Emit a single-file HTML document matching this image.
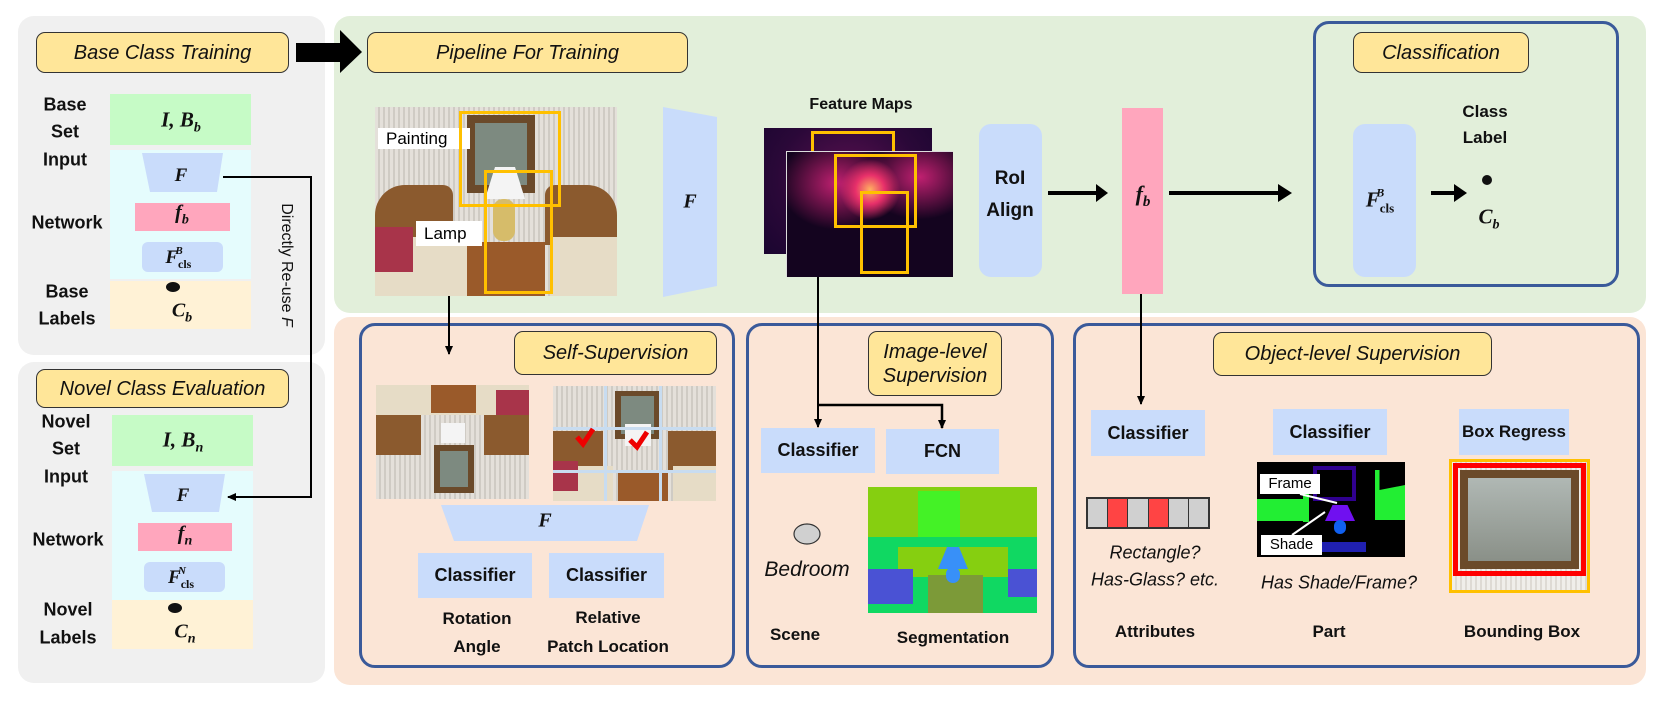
<!DOCTYPE html>
<html><head><meta charset="utf-8">
<style>
*{margin:0;padding:0;box-sizing:border-box}
body{width:1660px;height:703px;background:#fff;position:relative;overflow:hidden;font-family:"Liberation Sans",sans-serif}
.a{position:absolute}
.t{position:absolute;text-align:center;font-weight:bold;color:#111;white-space:nowrap;transform:translate(-50%,-50%)}
.ybox{position:absolute;background:#ffe699;border:1.5px solid #333;border-radius:9px;font-style:italic;color:#111;display:flex;align-items:center;justify-content:center;font-size:20px;text-align:center;line-height:1.2}
.bb{position:absolute;background:#c9dcfb;display:flex;align-items:center;justify-content:center;font-weight:bold;font-size:18px;color:#111;white-space:nowrap}
.panel{position:absolute;border:3.5px solid #3a5a9a;border-radius:16px}
.m{font-family:"Liberation Serif",serif;font-weight:bold;font-style:italic}
.ph{position:absolute;overflow:hidden}
.ph div{position:absolute}
</style></head><body>

<div class="a" style="left:18px;top:16px;width:307px;height:339px;background:#f0f0f0;border-radius:16px"></div>
<div class="a" style="left:18px;top:362px;width:307px;height:321px;background:#f0f0f0;border-radius:16px"></div>
<div class="a" style="left:334px;top:16px;width:1312px;height:297px;background:#e2efda;border-radius:16px"></div>
<div class="a" style="left:334px;top:317px;width:1312px;height:368px;background:#fbe5d6;border-radius:16px"></div>

<div class="a" style="left:110px;top:94px;width:141px;height:51px;background:#c6fbc6"></div>
<div class="a" style="left:110px;top:150px;width:141px;height:129px;background:#e5fcfd"></div>
<div class="a" style="left:135px;top:203px;width:95px;height:28px;background:#ffa6bd"></div>
<div class="a" style="left:142px;top:242px;width:81px;height:30px;background:#c9dcfb;border-radius:6px"></div>
<div class="a" style="left:110px;top:281px;width:141px;height:48px;background:#fff2d6"></div>

<div class="a" style="left:112px;top:415px;width:141px;height:51px;background:#c6fbc6"></div>
<div class="a" style="left:112px;top:471px;width:141px;height:129px;background:#e5fcfd"></div>
<div class="a" style="left:138px;top:523px;width:94px;height:28px;background:#ffa6bd"></div>
<div class="a" style="left:144px;top:562px;width:81px;height:30px;background:#c9dcfb;border-radius:6px"></div>
<div class="a" style="left:112px;top:600px;width:141px;height:49px;background:#fff2d6"></div>

<div class="ybox" style="left:36px;top:32px;width:253px;height:41px">Base Class Training</div>
<div class="ybox" style="left:36px;top:369px;width:253px;height:39px">Novel Class Evaluation</div>
<div class="ybox" style="left:367px;top:32px;width:321px;height:41px">Pipeline For Training</div>

<div class="ph" style="left:375px;top:107px;width:242px;height:189px;background:repeating-linear-gradient(90deg,#e4e0da 0 3px,#cfcbc4 3px 5px)">
 <div style="left:92px;top:8px;width:68px;height:78px;background:#6b4a2a"></div>
 <div style="left:100px;top:16px;width:52px;height:62px;background:#7d8a80"></div>
 <div style="left:0;top:78px;width:78px;height:60px;background:#8b5a2e;border-radius:30px 10px 0 0"></div>
 <div style="left:170px;top:78px;width:72px;height:60px;background:#8b5a2e;border-radius:10px 30px 0 0"></div>
 <div style="left:0;top:130px;width:95px;height:59px;background:#e6dcc6"></div>
 <div style="left:175px;top:130px;width:67px;height:59px;background:#e6dcc6"></div>
 <div style="left:0;top:120px;width:38px;height:45px;background:#a8344a"></div>
 <div style="left:92px;top:135px;width:78px;height:54px;background:#9a5a2a"></div>
 <div style="left:110px;top:60px;width:40px;height:32px;background:#f4f4f4;clip-path:polygon(25% 0,75% 0,100% 100%,0 100%)"></div>
 <div style="left:118px;top:92px;width:22px;height:42px;background:#d6bc6a;border-radius:10px"></div>
</div>
<div class="a" style="left:378px;top:128px;width:92px;height:21px;background:#fff;font-size:17px;padding-left:8px;line-height:21px">Painting</div>
<div class="a" style="left:416px;top:221px;width:66px;height:25px;background:#fff;font-size:17px;padding-left:8px;line-height:25px">Lamp</div>
<div class="a" style="left:459px;top:111px;width:102px;height:96px;border:3px solid #ffc000"></div>
<div class="a" style="left:484px;top:170px;width:69px;height:124px;border:3px solid #ffc000"></div>

<div class="a" style="left:764px;top:128px;width:168px;height:126px;background:radial-gradient(ellipse at 50% 40%,#5a1050 0,#2a0838 60%,#1a0530 100%)"></div>
<div class="a" style="left:811px;top:131px;width:84px;height:22px;border:3px solid #ffc000;border-bottom:none"></div>
<div class="a" style="left:786px;top:151px;width:167px;height:126px;background:radial-gradient(circle at 50% 30%,#ffb060 0,#e8306a 12%,transparent 25%),radial-gradient(ellipse at 30% 25%,#c02070 0,transparent 35%),radial-gradient(ellipse at 80% 20%,#c02070 0,transparent 30%),#14041f;border-top:1px solid #ddd;border-left:1px solid #ddd"></div>
<div class="a" style="left:834px;top:154px;width:83px;height:74px;border:3px solid #ffc000"></div>
<div class="a" style="left:860px;top:191px;width:49px;height:83px;border:3px solid #ffc000"></div>

<div class="a" style="left:979px;top:124px;width:63px;height:153px;background:#c9dcfb;border-radius:12px"></div>
<div class="a" style="left:1122px;top:108px;width:41px;height:186px;background:#ffa6bd"></div>
<div class="panel" style="left:1313px;top:21px;width:306px;height:266px"></div>
<div class="ybox" style="left:1353px;top:32px;width:176px;height:41px">Classification</div>
<div class="a" style="left:1353px;top:124px;width:63px;height:153px;background:#c9dcfb;border-radius:12px"></div>

<div class="panel" style="left:359px;top:323px;width:376px;height:345px"></div>
<div class="panel" style="left:746px;top:323px;width:308px;height:345px"></div>
<div class="panel" style="left:1073px;top:323px;width:567px;height:345px"></div>
<div class="ybox" style="left:514px;top:331px;width:203px;height:44px">Self-Supervision</div>
<div class="ybox" style="left:868px;top:331px;width:134px;height:65px">Image-level<br>Supervision</div>
<div class="ybox" style="left:1213px;top:332px;width:279px;height:44px">Object-level Supervision</div>

<div class="ph" style="left:376px;top:385px;width:153px;height:114px;background:repeating-linear-gradient(90deg,#e4e0da 0 3px,#cfcbc4 3px 5px)">
 <div style="left:0;top:0;width:153px;height:30px;background:#e6dcc6"></div>
 <div style="left:55px;top:0;width:45px;height:28px;background:#9a5a2a"></div>
 <div style="left:120px;top:5px;width:33px;height:30px;background:#a8344a"></div>
 <div style="left:0;top:30px;width:45px;height:40px;background:#8b5a2e"></div>
 <div style="left:108px;top:30px;width:45px;height:40px;background:#8b5a2e"></div>
 <div style="left:58px;top:60px;width:40px;height:48px;background:#6b4a2a"></div>
 <div style="left:64px;top:66px;width:28px;height:36px;background:#7d8a80"></div>
 <div style="left:65px;top:38px;width:24px;height:20px;background:#f4f4f4"></div>
</div>
<div class="ph" style="left:553px;top:386px;width:163px;height:115px;background:repeating-linear-gradient(90deg,#e4e0da 0 3px,#cfcbc4 3px 5px)">
 <div style="left:62px;top:5px;width:45px;height:48px;background:#6b4a2a"></div>
 <div style="left:68px;top:10px;width:33px;height:38px;background:#7d8a80"></div>
 <div style="left:0;top:45px;width:50px;height:40px;background:#8b5a2e"></div>
 <div style="left:115px;top:45px;width:48px;height:40px;background:#8b5a2e"></div>
 <div style="left:0;top:80px;width:60px;height:35px;background:#e6dcc6"></div>
 <div style="left:120px;top:80px;width:43px;height:35px;background:#e6dcc6"></div>
 <div style="left:0;top:75px;width:25px;height:30px;background:#a8344a"></div>
 <div style="left:65px;top:85px;width:50px;height:30px;background:#9a5a2a"></div>
 <div style="left:72px;top:38px;width:26px;height:22px;background:#f4f4f4"></div>
 <div style="left:0;top:41px;width:163px;height:3px;background:#c8dcf0"></div>
 <div style="left:0;top:84px;width:163px;height:3px;background:#c8dcf0"></div>
 <div style="left:51px;top:0;width:3px;height:115px;background:#c8dcf0"></div>
 <div style="left:106px;top:0;width:3px;height:115px;background:#c8dcf0"></div>
</div>

<div class="bb" style="left:418px;top:553px;width:114px;height:45px">Classifier</div>
<div class="bb" style="left:549px;top:553px;width:115px;height:45px">Classifier</div>
<div class="bb" style="left:761px;top:428px;width:114px;height:45px">Classifier</div>
<div class="bb" style="left:886px;top:429px;width:113px;height:45px">FCN</div>
<div class="bb" style="left:1091px;top:410px;width:114px;height:46px">Classifier</div>
<div class="bb" style="left:1273px;top:409px;width:114px;height:46px">Classifier</div>
<div class="bb" style="left:1459px;top:409px;width:110px;height:46px;font-size:17px">Box Regress</div>

<div class="ph" style="left:868px;top:487px;width:169px;height:126px;background:#86cf10">
 <div style="left:50px;top:4px;width:42px;height:60px;background:#44f226"></div>
 <div style="left:0;top:50px;width:169px;height:76px;background:#10d862"></div>
 <div style="left:30px;top:60px;width:110px;height:30px;background:#86cf10"></div>
 <div style="left:0;top:82px;width:45px;height:35px;background:#4a52d4"></div>
 <div style="left:140px;top:82px;width:29px;height:28px;background:#4a52d4"></div>
 <div style="left:60px;top:88px;width:55px;height:38px;background:#7c9a38"></div>
 <div style="left:70px;top:60px;width:30px;height:22px;background:#3890f8;clip-path:polygon(30% 0,70% 0,100% 100%,0 100%)"></div>
 <div style="left:78px;top:80px;width:14px;height:16px;background:#3890f8;border-radius:7px"></div>
</div>

<div class="a" style="left:1086px;top:497px;width:124px;height:32px;border:2px solid #333;display:flex">
 <div style="flex:1;background:#d0d0d0;border-right:1.5px solid #333"></div><div style="flex:1;background:#f44;border-right:1.5px solid #333"></div><div style="flex:1;background:#d0d0d0;border-right:1.5px solid #333"></div><div style="flex:1;background:#f44;border-right:1.5px solid #333"></div><div style="flex:1;background:#d0d0d0;border-right:1.5px solid #333"></div><div style="flex:1;background:#d0d0d0"></div>
</div>

<div class="ph" style="left:1257px;top:462px;width:148px;height:95px;background:#000">
 <div style="left:56px;top:4px;width:43px;height:35px;border:4px solid #300090"></div>
 <div style="left:0;top:37px;width:52px;height:22px;background:#22ee33"></div>
 <div style="left:46px;top:20px;width:6px;height:40px;background:#22ee33"></div>
 <div style="left:118px;top:8px;width:30px;height:50px;background:#22ee33;clip-path:polygon(0 0,15% 0,15% 40%,100% 30%,100% 100%,0 100%)"></div>
 <div style="left:68px;top:43px;width:30px;height:16px;background:#7010f0;clip-path:polygon(25% 0,75% 0,100% 100%,0 100%)"></div>
 <div style="left:77px;top:58px;width:12px;height:14px;background:#1060f0;border-radius:6px"></div>
 <div style="left:65px;top:80px;width:44px;height:10px;background:#2020b0"></div>
</div>
<div class="a" style="left:1260px;top:474px;width:60px;height:20px;background:#fff;font-size:15px;line-height:20px;text-align:center">Frame</div>
<div class="a" style="left:1261px;top:535px;width:61px;height:20px;background:#fff;font-size:15px;line-height:20px;text-align:center">Shade</div>

<div class="ph" style="left:1449px;top:459px;width:141px;height:134px;border:3px solid #ffc000;background:repeating-linear-gradient(90deg,#f0eeea 0 3px,#dedad4 3px 5px)">
 <div style="left:1px;top:1px;width:133px;height:113px;border:5px solid #f00"></div>
 <div style="left:8px;top:8px;width:119px;height:99px;background:#6b4a2a"></div>
 <div style="left:16px;top:16px;width:103px;height:83px;background:linear-gradient(#b0b8b4,#8a9088)"></div>
</div>

<svg class="a" style="left:0;top:0" width="1660" height="703">
<defs>
<marker id="ah" markerWidth="10" markerHeight="10" refX="8" refY="5" orient="auto" markerUnits="userSpaceOnUse"><path d="M0,1 L9,5 L0,9 z" fill="#000"/></marker>
</defs>
<polygon points="296,43 340,43 340,30 362,52 340,73 340,62 296,62" fill="#000"/>
<polygon points="142,153 223,153 217,192 150,192" fill="#c9dcfb"/>
<polygon points="144,474 225,474 219,512 152,512" fill="#c9dcfb"/>
<polyline points="223,177 311,177 311,497 228,497" fill="none" stroke="#000" stroke-width="2" marker-end="url(#ah)"/>
<polygon points="663,107 717,117 717,286 663,297" fill="#c9dcfb"/>
<polygon points="441,505 649,505 637,541 454,541" fill="#c9dcfb"/>
<line x1="1048" y1="193" x2="1104" y2="193" stroke="#000" stroke-width="4"/>
<polygon points="1096,184 1108,193 1096,202" fill="#000"/>
<line x1="1169" y1="193" x2="1280" y2="193" stroke="#000" stroke-width="4"/>
<polygon points="1278,184 1292,193 1278,202" fill="#000"/>
<line x1="1431" y1="193" x2="1456" y2="193" stroke="#000" stroke-width="4"/>
<polygon points="1454,184 1467,193 1454,202" fill="#000"/>
<circle cx="1487" cy="180" r="5" fill="#111"/>
<ellipse cx="173" cy="287" rx="7" ry="5" fill="#111"/>
<ellipse cx="175" cy="608" rx="7" ry="5" fill="#111"/>
<line x1="449" y1="296" x2="449" y2="354" stroke="#000" stroke-width="2" marker-end="url(#ah)"/>
<line x1="818" y1="277" x2="818" y2="427" stroke="#000" stroke-width="2" marker-end="url(#ah)"/>
<polyline points="818,405 942,405 942,428" fill="none" stroke="#000" stroke-width="2.5" marker-end="url(#ah)"/>
<line x1="1141" y1="294" x2="1141" y2="404" stroke="#000" stroke-width="2" marker-end="url(#ah)"/>
<ellipse cx="807" cy="534" rx="13" ry="10" fill="#d0d0d0" stroke="#333" stroke-width="1.2"/>
<path d="M577,437 l6,7 l10,-15" fill="none" stroke="#e00" stroke-width="5"/>
<path d="M630,440 l7,7 l10,-15" fill="none" stroke="#e00" stroke-width="5"/>
<line x1="1300" y1="494" x2="1337" y2="503" stroke="#fff" stroke-width="2"/>
<line x1="1292" y1="535" x2="1325" y2="512" stroke="#fff" stroke-width="2"/>
</svg>

<div class="t" style="left:65px;top:105px;font-size:18px">Base</div>
<div class="t" style="left:65px;top:132px;font-size:18px">Set</div>
<div class="t" style="left:65px;top:160px;font-size:18px">Input</div>
<div class="t" style="left:67px;top:223px;font-size:18px">Network</div>
<div class="t" style="left:67px;top:292px;font-size:18px">Base</div>
<div class="t" style="left:67px;top:319px;font-size:18px">Labels</div>
<div class="t" style="left:66px;top:422px;font-size:18px">Novel</div>
<div class="t" style="left:66px;top:449px;font-size:18px">Set</div>
<div class="t" style="left:66px;top:477px;font-size:18px">Input</div>
<div class="t" style="left:68px;top:540px;font-size:18px">Network</div>
<div class="t" style="left:68px;top:610px;font-size:18px">Novel</div>
<div class="t" style="left:68px;top:638px;font-size:18px">Labels</div>

<div class="t m" style="left:181px;top:122px;font-size:21px">I, B<sub style="font-size:14px">b</sub></div>
<div class="t m" style="left:181px;top:176px;font-size:19px">F</div>
<div class="t m" style="left:182px;top:215px;font-size:20px">f<sub style="font-size:14px">b</sub></div>
<div class="t m" style="left:182px;top:258px;font-size:19px">F<span style="font-size:12px;font-style:normal;position:relative;top:5px">cls</span><span style="font-size:11px;position:relative;top:-9px;left:-16px">B</span></div>
<div class="t m" style="left:182px;top:313px;font-size:20px">C<sub style="font-size:14px">b</sub></div>
<div class="t m" style="left:183px;top:442px;font-size:21px">I, B<sub style="font-size:14px">n</sub></div>
<div class="t m" style="left:183px;top:496px;font-size:19px">F</div>
<div class="t m" style="left:185px;top:536px;font-size:20px">f<sub style="font-size:14px">n</sub></div>
<div class="t m" style="left:185px;top:578px;font-size:19px">F<span style="font-size:12px;font-style:normal;position:relative;top:5px">cls</span><span style="font-size:11px;position:relative;top:-9px;left:-16px">N</span></div>
<div class="t m" style="left:185px;top:634px;font-size:20px">C<sub style="font-size:14px">n</sub></div>
<div class="t" style="left:286px;top:265px;font-size:16px;font-weight:normal;transform:translate(-50%,-50%) rotate(90deg)">Directly Re-use <i>F</i></div>

<div class="t m" style="left:690px;top:202px;font-size:20px">F</div>
<div class="t" style="left:861px;top:105px;font-size:16px">Feature Maps</div>
<div class="t" style="left:1010px;top:179px;font-size:19px">RoI</div>
<div class="t" style="left:1010px;top:211px;font-size:19px">Align</div>
<div class="t m" style="left:1143px;top:196px;font-size:22px">f<sub style="font-size:15px">b</sub></div>
<div class="t m" style="left:1384px;top:200px;font-size:21px">F<span style="font-size:13px;font-style:normal;position:relative;top:6px">cls</span><span style="font-size:12px;position:relative;top:-10px;left:-18px">B</span></div>
<div class="t" style="left:1485px;top:112px;font-size:17px">Class</div>
<div class="t" style="left:1485px;top:138px;font-size:17px">Label</div>
<div class="t m" style="left:1489px;top:219px;font-size:21px">C<sub style="font-size:14px">b</sub></div>

<div class="t m" style="left:545px;top:521px;font-size:20px">F</div>
<div class="t" style="left:477px;top:619px;font-size:17px">Rotation</div>
<div class="t" style="left:477px;top:647px;font-size:17px">Angle</div>
<div class="t" style="left:608px;top:618px;font-size:17px">Relative</div>
<div class="t" style="left:608px;top:647px;font-size:17px">Patch Location</div>
<div class="t" style="left:807px;top:570px;font-size:21px;font-weight:normal;font-style:italic">Bedroom</div>
<div class="t" style="left:795px;top:635px;font-size:17px">Scene</div>
<div class="t" style="left:953px;top:638px;font-size:17px">Segmentation</div>
<div class="t" style="left:1155px;top:553px;font-size:18px;font-weight:normal;font-style:italic">Rectangle?</div>
<div class="t" style="left:1155px;top:580px;font-size:18px;font-weight:normal;font-style:italic">Has-Glass? etc.</div>
<div class="t" style="left:1339px;top:583px;font-size:18px;font-weight:normal;font-style:italic">Has Shade/Frame?</div>
<div class="t" style="left:1155px;top:632px;font-size:17px">Attributes</div>
<div class="t" style="left:1329px;top:632px;font-size:17px">Part</div>
<div class="t" style="left:1522px;top:632px;font-size:17px">Bounding Box</div>
</body></html>
